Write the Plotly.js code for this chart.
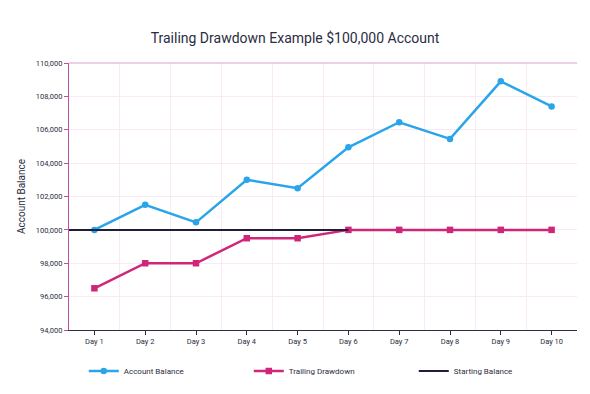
<!DOCTYPE html>
<html><head><meta charset="utf-8">
<script src="https://cdn.plot.ly/plotly-3.0.1.min.js"></script>
<style>html,body{margin:0;padding:0;background:#fff}</style>
</head><body>
<div id="chart" style="width:590px;height:394px"></div>
<script>
const days = ["Day 1","Day 2","Day 3","Day 4","Day 5","Day 6","Day 7","Day 8","Day 9","Day 10"];
const dayIndex = [0,1,2,3,4,5,6,7,8,9];
const accountBalance = [100000,101500,100450,103000,102500,104950,106450,105450,108900,107400];
const trailingDrawdown = [96500,98000,98000,99500,99500,100000,100000,100000,100000,100000];
const startingBalanceX = [-0.5,5];
const startingBalance = [100000,100000];
const yTicks = [94000,96000,98000,100000,102000,104000,106000,108000,110000];

const font = "Roboto, 'Open Sans', sans-serif";
const traces = [
  {x: dayIndex, y: accountBalance, name: "Account Balance", mode: "lines+markers",
   line: {color: "#2aa5ea", width: 2.5}, marker: {symbol: "circle", size: 6.5, color: "#2aa5ea"}},
  {x: dayIndex, y: trailingDrawdown, name: "Trailing Drawdown", mode: "lines+markers",
   line: {color: "#d0267a", width: 2.5}, marker: {symbol: "square", size: 6.5, color: "#d0267a"}},
  {x: startingBalanceX, y: startingBalance, name: "Starting Balance", mode: "lines",
   line: {color: "#1e1e3c", width: 2}}
];
const layout = {
  width: 590, height: 394,
  margin: {l: 69, r: 13, t: 63, b: 64},
  paper_bgcolor: "#fff", plot_bgcolor: "#fff",
  font: {family: font, color: "#2b2d42"},
  title: {text: "Trailing Drawdown Example $100,000 Account", x: 0.5, xanchor: "center", y: 0.915,
          font: {size: 14, color: "#2b2d42", family: font}},
  showlegend: true,
  legend: {orientation: "h", x: 0.142, y: 0.095, xref: "container", yref: "container",
           xanchor: "left", yanchor: "top",
           entrywidth: 120, entrywidthmode: "pixels", font: {size: 8, color: "#2b2d42"},
           traceorder: "normal"},
  xaxis: {
    type: "linear", range: [-0.5, 9.5], tickmode: "array", tickvals: dayIndex, ticktext: days,
    showgrid: false, zeroline: false, showline: true, linecolor: "#2b2d42", linewidth: 1,
    ticks: "outside", ticklen: 4, tickcolor: "#2b2d42", tickfont: {size: 7.5, color: "#2b2d42"},
    minor: {tick0: 0.5, dtick: 1, showgrid: true, gridcolor: "#fae9f3", gridwidth: 1, ticks: ""},
    fixedrange: true
  },
  yaxis: {
    range: [94000, 110000], tickmode: "array", tickvals: yTicks, tickformat: ",",
    showgrid: true, gridcolor: "#fae9f3", gridwidth: 1, zeroline: false,
    showline: true, linecolor: "#c0529b", linewidth: 1, mirror: false,
    ticks: "outside", ticklen: 4, tickcolor: "#c0529b", tickfont: {size: 7.5, color: "#2b2d42"},
    title: {text: "Account Balance", font: {size: 10, color: "#2b2d42"}, standoff: 8},
    fixedrange: true
  },
  shapes: [
    {type: "line", xref: "paper", yref: "paper", x0: 0, x1: 1, y0: 1, y1: 1,
     line: {color: "#d9a3cc", width: 1}}
  ]
};
Plotly.newPlot("chart", traces, layout, {displayModeBar: false, staticPlot: true});
</script>
</body></html>
